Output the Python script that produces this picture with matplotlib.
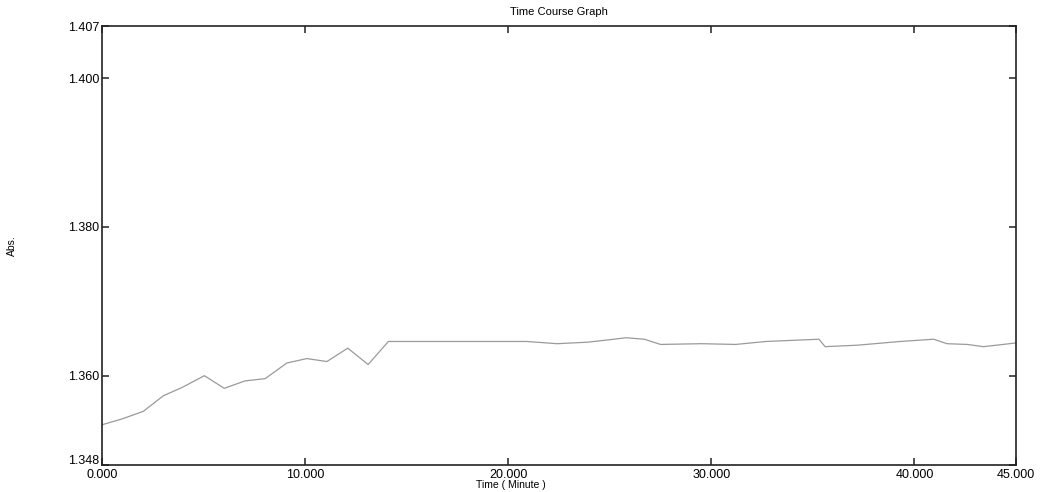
import matplotlib
matplotlib.use('Agg')
import matplotlib.pyplot as plt
import matplotlib.transforms as mtransforms

# time (minute) and absorbance
time_min = [0.0, 1.0, 2.03, 3.02, 3.93, 5.04, 6.02, 7.04, 8.03, 9.1, 10.08, 11.07,
            12.1, 13.1, 14.1, 17.0, 20.9, 22.4, 23.9, 25.2, 25.8, 26.7, 27.5,
            29.5, 31.2, 32.7, 35.3, 35.6, 37.2, 39.3, 40.95, 41.6, 42.6, 43.4, 45.0]
absorb = [1.3534, 1.3542, 1.3552, 1.3573, 1.3584, 1.3600, 1.3583, 1.3593, 1.3596,
          1.3617, 1.3623, 1.3619, 1.3637, 1.3615, 1.3646, 1.3646, 1.3646, 1.3643,
          1.3645, 1.3649, 1.3651, 1.3649, 1.3642, 1.3643, 1.3642, 1.3646, 1.3649,
          1.3639, 1.3641, 1.3646, 1.3649, 1.3643, 1.3642, 1.3639, 1.3644]

xticks = [0, 10, 20, 30, 40, 45]
xlabels = ['0.000', '10.000', '20.000', '30.000', '40.000', '45.000']
yticks = [1.348, 1.360, 1.380, 1.400, 1.407]
ylabels = ['1.348', '1.360', '1.380', '1.400', '1.407']

plt.rcParams['font.family'] = ['Liberation Sans', 'DejaVu Sans']

fig = plt.figure(figsize=(10.41, 4.92), dpi=100)
ax = fig.add_axes([0.098, 0.055, 0.878, 0.892])

ax.plot(time_min, absorb, color='#9a9a9a', lw=0.9)

ax.set_xlim(0, 45)
ax.set_ylim(1.348, 1.407)
ax.set_xticks(xticks)
ax.set_xticklabels(xlabels)
ax.set_yticks(yticks)
ax.set_yticklabels(ylabels)
ax.tick_params(direction='in', length=5, width=1.1, labelsize=9,
               top=True, right=True, color='#222222')
ax.tick_params(axis='x', pad=3)
ax.tick_params(axis='y', pad=2)

# nudge the bottom y label up so it clears 0.000
lab = ax.get_yticklabels()[0]
lab.set_transform(lab.get_transform() + mtransforms.ScaledTranslation(0, 4 / 72, fig.dpi_scale_trans))

for s in ax.spines.values():
    s.set_linewidth(1.2)
    s.set_color('#222222')

ax.set_title('Time Course Graph', fontsize=8, pad=8)
ax.set_xlabel('Time ( Minute )', fontsize=7.5)
ax.xaxis.set_label_coords(0.447, -0.035)
ax.set_ylabel('Abs.', fontsize=7.5)
ax.yaxis.set_label_coords(-0.093, 0.5)

fig.savefig('out.png', dpi=100)
